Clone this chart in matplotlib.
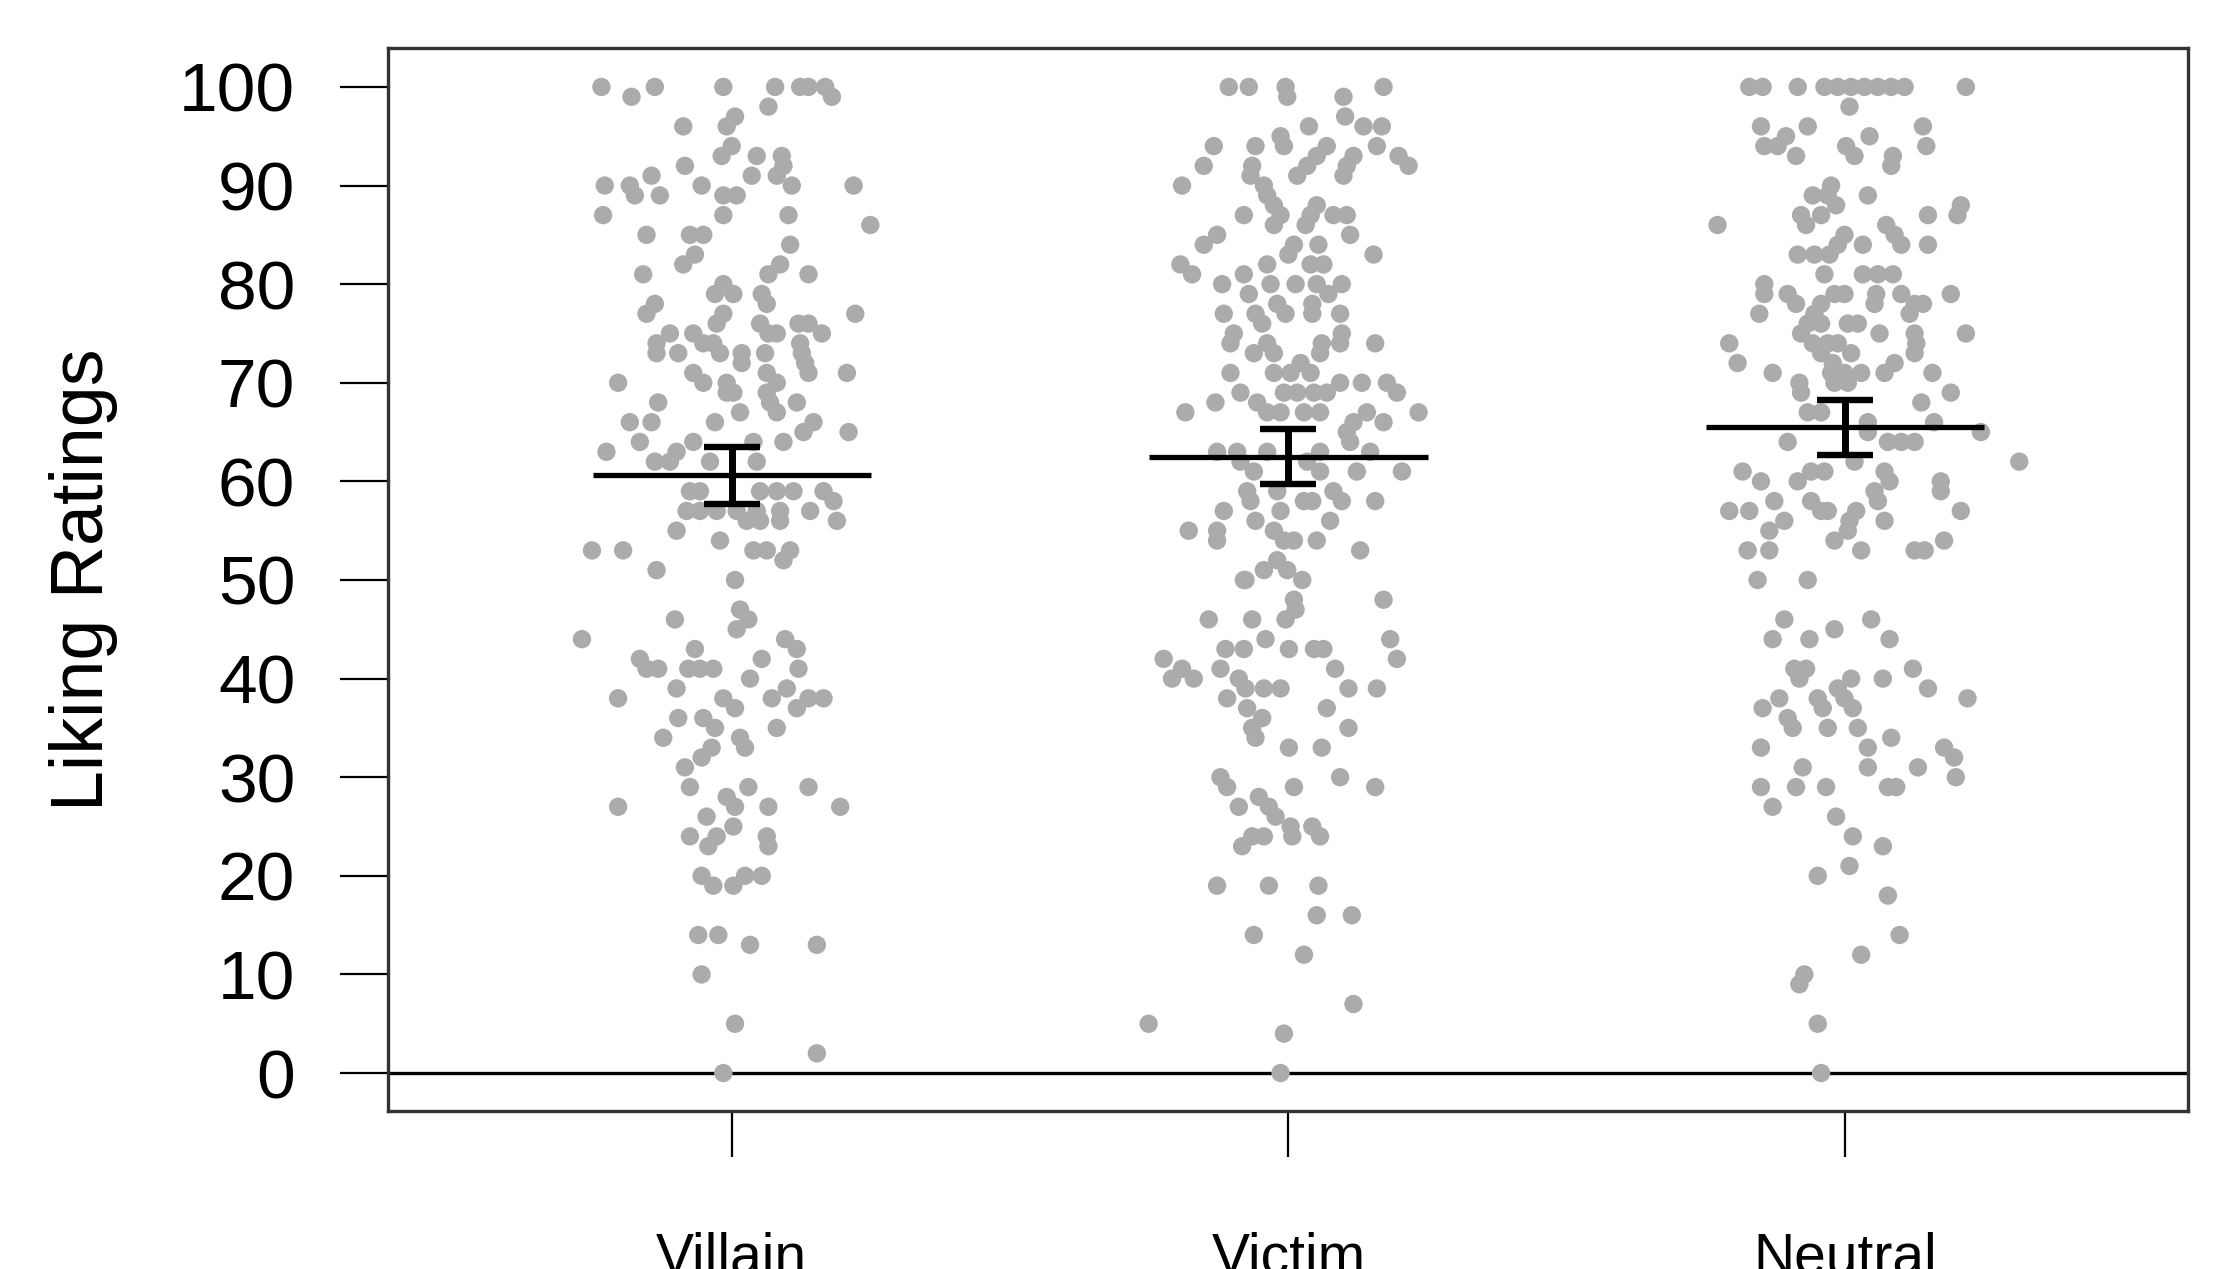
import matplotlib
matplotlib.use("Agg")
import matplotlib.pyplot as plt
import numpy as np

plt.rcParams['font.family'] = ['Liberation Sans', 'DejaVu Sans']

groups = ['Villain', 'Victim', 'Neutral']
means = [60.6, 62.5, 65.5]
errs = [2.9, 2.8, 2.8]
y_ticks = list(range(0, 101, 10))

# (horizontal jitter, rating)
villain_pts = [
    (-0.234, 100), (-0.138, 100), (-0.015, 100), (0.078, 100), (0.123, 100), (0.138, 100), (0.168, 100),
    (-0.180, 99), (0.180, 99), (0.066, 98), (0.006, 97), (-0.009, 96), (-0.087, 96),
    (0.000, 94), (-0.018, 93), (0.045, 93), (0.090, 93), (0.093, 92), (-0.084, 92),
    (-0.144, 91), (0.036, 91), (0.081, 91),
    (-0.228, 90), (-0.183, 90), (-0.174, 89), (-0.129, 89), (-0.054, 90), (-0.015, 89), (0.009, 89),
    (0.108, 90), (0.219, 90), (-0.231, 87), (-0.015, 87), (0.102, 87), (0.249, 86),
    (-0.153, 85), (-0.075, 85), (-0.051, 85),
    (-0.066, 83), (-0.087, 82), (0.105, 84), (0.087, 82), (0.066, 81), (-0.159, 81), (0.138, 81),
    (-0.015, 80), (0.003, 79), (-0.030, 79), (0.054, 79), (0.063, 78), (-0.138, 78), (-0.153, 77),
    (-0.015, 77), (-0.027, 76), (0.222, 77), (0.051, 76), (0.066, 75), (0.081, 75),
    (0.120, 76), (0.138, 76), (0.162, 75),
    (-0.111, 75), (-0.135, 74), (-0.135, 73), (-0.069, 75), (-0.096, 73),
    (-0.051, 74), (-0.033, 74), (-0.021, 73), (0.018, 73), (0.018, 72),
    (-0.069, 71), (-0.051, 70),
    (0.060, 73), (0.123, 74), (0.126, 73), (0.132, 72), (0.138, 71),
    (0.063, 71), (0.081, 70), (-0.009, 70), (-0.009, 69), (0.003, 69),
    (0.207, 71), (-0.204, 70), (0.063, 69), (0.069, 68), (0.081, 67), (0.117, 68),
    (-0.132, 68), (0.015, 67), (-0.183, 66), (-0.144, 66), (-0.030, 66),
    (0.147, 66), (0.129, 65), (0.210, 65), (-0.165, 64), (0.093, 64),
    (-0.225, 63), (-0.099, 63), (-0.069, 64), (0.039, 64),
    (-0.138, 62), (-0.111, 62), (-0.039, 62), (0.045, 62),
    (-0.075, 59), (-0.057, 59), (0.051, 59), (0.081, 59), (0.111, 59), (0.165, 59), (0.183, 58),
    (-0.081, 57), (-0.057, 57), (-0.027, 57), (0.009, 57), (0.045, 57), (0.087, 57), (0.141, 57),
    (0.189, 56), (0.027, 56), (0.051, 56), (0.087, 56), (-0.099, 55), (-0.021, 54),
    (-0.251, 53), (-0.195, 53), (0.039, 53), (0.063, 53), (0.105, 53), (0.093, 52),
    (-0.135, 51), (0.006, 50),
    (-0.102, 46), (0.015, 47), (0.030, 46), (0.009, 45), (-0.269, 44), (0.096, 44), (0.117, 43),
    (0.120, 41), (-0.066, 43),
    (-0.165, 42), (-0.153, 41), (-0.132, 41), (-0.078, 41), (-0.057, 41), (-0.033, 41), (0.054, 42), (0.033, 40),
    (-0.099, 39), (-0.204, 38), (-0.015, 38), (0.006, 37), (0.072, 38), (0.099, 39), (0.117, 37),
    (0.138, 38), (0.165, 38),
    (-0.096, 36), (-0.051, 36), (-0.030, 35), (0.081, 35), (-0.123, 34), (0.015, 34), (0.024, 33),
    (-0.036, 33), (-0.054, 32), (-0.084, 31),
    (-0.075, 29), (0.030, 29), (0.138, 29), (-0.009, 28), (0.006, 27), (-0.204, 27), (0.066, 27), (0.195, 27),
    (-0.045, 26), (0.003, 25), (-0.075, 24), (-0.027, 24), (-0.042, 23), (0.063, 24), (0.066, 23),
    (-0.054, 20), (-0.033, 19), (0.003, 19), (0.024, 20), (0.054, 20),
    (-0.060, 14), (-0.024, 14), (0.033, 13), (0.153, 13), (-0.054, 10), (0.006, 5), (0.153, 2), (-0.015, 0),
]

victim_pts = [
    (-0.107, 100), (-0.071, 100), (-0.005, 100), (-0.002, 99), (0.171, 100), (0.099, 99),
    (0.102, 97), (0.135, 96), (0.168, 96), (0.159, 94), (0.037, 96),
    (-0.014, 95), (-0.008, 94), (-0.134, 94), (-0.059, 94),
    (0.069, 94), (0.051, 93), (0.034, 92), (0.016, 91),
    (0.117, 93), (0.105, 92), (0.099, 91), (0.198, 93), (0.216, 92),
    (-0.152, 92), (-0.191, 90),
    (-0.065, 92), (-0.068, 91), (-0.044, 90), (-0.038, 89), (-0.026, 88),
    (-0.080, 87), (-0.014, 87), (-0.026, 86),
    (0.051, 88), (0.040, 87), (0.081, 87), (0.105, 87), (0.031, 86), (0.111, 85), (0.153, 83),
    (-0.128, 85), (-0.152, 84), (0.010, 84), (0.000, 83), (0.054, 84),
    (-0.194, 82), (-0.173, 81), (-0.038, 82), (0.040, 82), (0.063, 82),
    (-0.080, 81), (-0.119, 80),
    (-0.032, 80), (0.013, 80), (0.051, 80), (0.096, 80), (0.072, 79),
    (-0.071, 79), (-0.020, 78), (-0.005, 77), (-0.059, 77), (-0.047, 76),
    (0.043, 78), (0.043, 77), (0.093, 77), (-0.116, 77),
    (0.096, 75), (0.093, 74), (0.060, 74), (0.057, 73), (0.156, 74),
    (-0.098, 75), (-0.104, 74), (-0.038, 74), (-0.062, 73), (-0.026, 73),
    (0.022, 72), (0.040, 71), (0.004, 71), (-0.026, 71), (-0.104, 71),
    (-0.008, 69), (0.016, 69), (0.046, 69), (0.069, 69),
    (0.093, 70), (0.132, 70), (0.177, 70), (0.195, 69),
    (-0.086, 69), (-0.056, 68), (-0.038, 67), (-0.131, 68), (-0.185, 67), (0.234, 67),
    (0.141, 67), (0.117, 66), (0.171, 66), (0.105, 65), (0.111, 64), (0.147, 63),
    (-0.014, 67), (0.028, 67), (0.057, 67),
    (-0.128, 63), (-0.092, 63), (0.057, 63), (-0.038, 63),
    (-0.086, 62), (-0.062, 61), (0.034, 62), (0.057, 61), (0.123, 61), (0.204, 61),
    (-0.074, 59), (-0.068, 58), (-0.020, 59), (0.028, 58), (0.043, 58), (0.081, 59), (0.096, 58), (0.156, 58),
    (-0.116, 57), (-0.014, 57), (-0.179, 55), (-0.128, 55), (-0.128, 54),
    (-0.059, 56), (-0.026, 55), (-0.008, 54), (0.010, 54),
    (0.075, 56), (0.051, 54), (0.129, 53),
    (-0.020, 52), (-0.044, 51), (-0.077, 50), (-0.002, 51), (0.025, 50), (-0.080, 50),
    (0.010, 48), (0.013, 47), (-0.005, 46), (0.171, 48), (-0.143, 46), (-0.065, 46),
    (-0.041, 44), (0.001, 43), (0.046, 43), (0.063, 43), (-0.113, 43), (-0.080, 43),
    (0.183, 44), (0.195, 42),
    (-0.224, 42), (-0.191, 41), (-0.209, 40), (-0.170, 40),
    (-0.122, 41), (-0.089, 40), (-0.077, 39), (-0.044, 39), (-0.014, 39),
    (-0.110, 38), (-0.074, 37), (-0.047, 36), (-0.065, 35), (-0.059, 34),
    (0.084, 41), (0.108, 39), (0.159, 39), (0.069, 37), (0.108, 35),
    (0.001, 33), (0.060, 33),
    (-0.122, 30), (-0.110, 29), (-0.089, 27),
    (-0.053, 28), (-0.035, 27), (-0.023, 26), (0.004, 25), (0.007, 24), (-0.044, 24), (-0.065, 24), (-0.083, 23),
    (0.010, 29), (0.093, 30), (0.156, 29), (0.043, 25), (0.057, 24),
    (-0.128, 19), (-0.035, 19), (0.054, 19), (0.051, 16), (0.114, 16),
    (-0.062, 14), (0.028, 12), (0.117, 7), (-0.251, 5), (-0.008, 4), (-0.014, 0),
]

neutral_pts = [
    (-0.172, 100), (-0.148, 100), (-0.085, 100), (-0.037, 100), (-0.013, 100), (0.011, 100),
    (0.035, 100), (0.059, 100), (0.083, 100), (0.107, 100), (0.217, 100), (0.008, 98),
    (-0.151, 96), (-0.067, 96), (0.140, 96), (-0.106, 95), (0.044, 95),
    (-0.145, 94), (-0.121, 94), (-0.088, 93), (0.002, 94), (0.017, 93), (0.146, 94),
    (0.086, 93), (0.083, 92),
    (-0.025, 90), (-0.058, 89), (-0.031, 89), (-0.016, 88), (0.041, 89), (0.208, 88), (0.202, 87),
    (-0.079, 87), (-0.070, 86), (-0.043, 87), (0.149, 87), (-0.229, 86),
    (0.074, 86), (0.089, 85), (0.101, 84), (0.149, 84), (0.032, 84), (-0.001, 85), (-0.013, 84),
    (-0.085, 83), (-0.055, 83), (-0.028, 83),
    (-0.037, 81), (0.032, 81), (0.059, 81), (0.086, 81),
    (-0.145, 80), (-0.145, 79), (-0.103, 79), (-0.088, 78), (-0.019, 79), (-0.001, 79),
    (0.101, 79), (0.125, 78), (0.140, 78), (0.116, 77), (0.056, 79), (0.053, 78), (0.190, 79),
    (-0.154, 77), (-0.043, 78), (-0.055, 77), (-0.067, 76), (-0.043, 76), (0.005, 76), (0.023, 76),
    (0.062, 75), (0.217, 75), (-0.208, 74), (-0.193, 72),
    (-0.079, 75), (-0.058, 74), (-0.031, 74), (-0.013, 74), (0.011, 73), (-0.043, 73), (-0.022, 72),
    (0.125, 75), (0.128, 74), (0.125, 73), (0.089, 72), (0.071, 71), (-0.130, 71),
    (-0.025, 71), (-0.001, 71), (0.029, 71), (0.005, 70), (-0.019, 70),
    (0.157, 71), (-0.082, 70), (-0.079, 69), (0.190, 69), (0.137, 68), (-0.067, 67), (-0.043, 67),
    (0.041, 66), (0.160, 66), (0.244, 65),
    (-0.103, 64), (0.041, 65), (0.077, 64), (0.101, 64), (0.125, 64), (0.313, 62),
    (-0.184, 61), (-0.151, 60),
    (-0.085, 60), (-0.061, 61), (-0.037, 61), (0.017, 62), (0.071, 61), (0.080, 60), (0.053, 59), (0.059, 58),
    (0.172, 60), (0.172, 59), (-0.127, 58),
    (-0.208, 57), (-0.172, 57), (-0.061, 58), (-0.043, 57), (-0.031, 57), (0.208, 57),
    (-0.109, 56), (-0.136, 55), (0.020, 57), (0.008, 56), (0.005, 55), (0.071, 56), (-0.019, 54),
    (-0.175, 53), (-0.136, 53), (0.029, 53), (0.125, 53), (0.143, 53), (0.178, 54),
    (-0.157, 50), (-0.067, 50),
    (-0.109, 46), (0.047, 46), (-0.130, 44), (-0.064, 44), (-0.019, 45), (0.080, 44),
    (-0.091, 41), (-0.070, 41), (-0.082, 40), (0.011, 40), (0.068, 40), (0.122, 41), (0.149, 39),
    (-0.013, 39), (-0.118, 38), (-0.148, 37), (-0.049, 38), (-0.040, 37), (-0.001, 38), (0.014, 37),
    (0.220, 38),
    (-0.103, 36), (-0.094, 35), (-0.031, 35), (0.023, 35), (0.083, 34), (0.041, 33), (0.041, 31),
    (-0.151, 33), (0.178, 33), (0.196, 32), (0.199, 30), (-0.076, 31), (0.131, 31),
    (-0.151, 29), (-0.088, 29), (-0.034, 29), (0.077, 29), (0.092, 29), (-0.130, 27),
    (-0.016, 26), (0.014, 24), (0.068, 23), (0.008, 21), (-0.049, 20),
    (0.077, 18), (0.098, 14), (0.029, 12), (-0.073, 10), (-0.082, 9), (-0.049, 5), (-0.043, 0),
]

fig = plt.figure(figsize=(22.19, 12.69), dpi=100)
ax = fig.add_axes([0.1747, 0.1245, 0.8113, 0.8373])

pos = np.arange(1, len(groups) + 1)
for p, pts in zip(pos, [villain_pts, victim_pts, neutral_pts]):
    pts = np.array(pts)
    ax.scatter(p + pts[:, 0], pts[:, 1], s=175, color='#ababab', edgecolors='none', zorder=2)

ax.axhline(0, color='k', lw=2.4, zorder=1)
ax.hlines(means, pos - 0.25, pos + 0.25, color='k', lw=3.8, zorder=3)
ax.errorbar(pos, means, yerr=errs, fmt='none', ecolor='k', elinewidth=5,
            capsize=20, capthick=4.6, zorder=3)

ax.set_xlim(0.382, 3.616)
ax.set_ylim(-3.85, 103.9)
ax.set_yticks(y_ticks)
ax.set_yticklabels([str(t) for t in y_ticks], fontsize=50)
ax.set_xticks(pos)
ax.set_xticklabels(groups, fontsize=41)
ax.tick_params(axis='y', length=34.5, width=1.6, pad=32)
ax.tick_params(axis='x', length=33, width=1.6, pad=54)
ax.set_ylabel('Liking Ratings', fontsize=53)
ax.yaxis.set_label_coords(-0.150, 0.5)
for sp in ax.spines.values():
    sp.set_linewidth(2.4)
    sp.set_color('#333333')

fig.savefig('out.png', dpi=100)
